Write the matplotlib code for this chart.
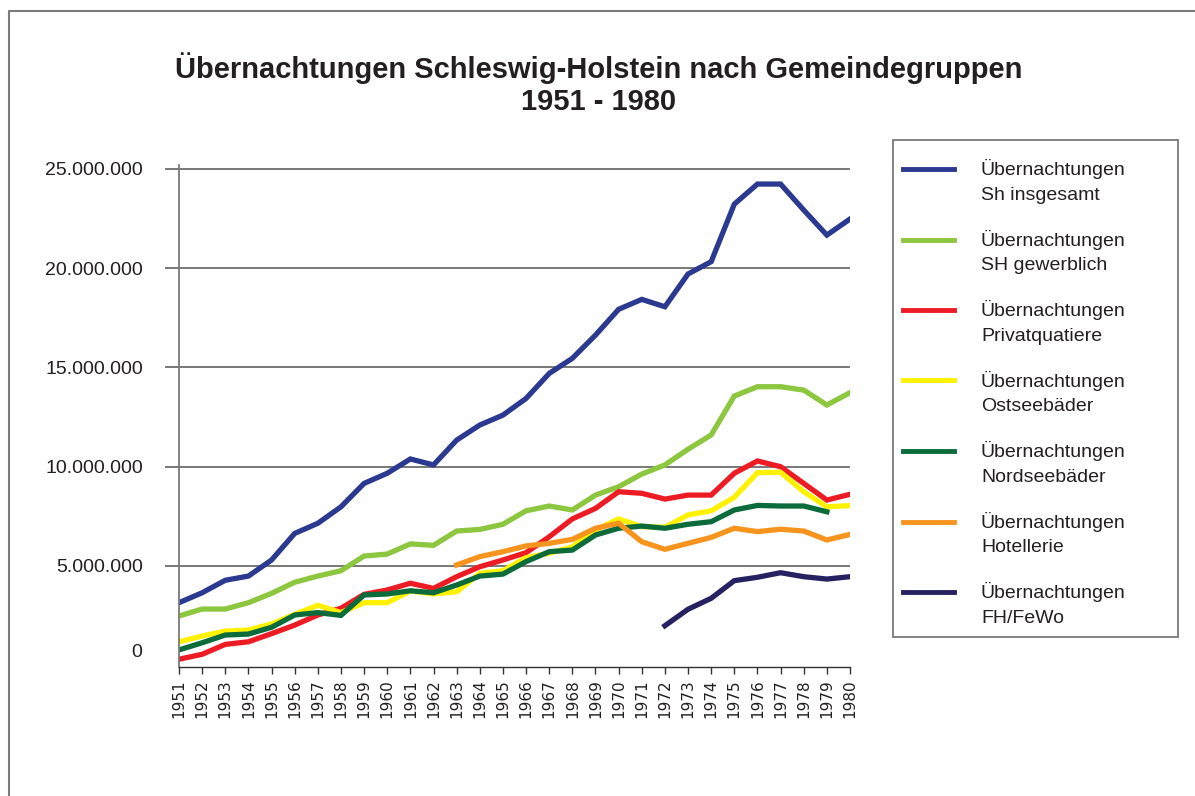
import matplotlib
matplotlib.use("Agg")
import matplotlib.pyplot as plt
from matplotlib.lines import Line2D
from matplotlib.patches import Rectangle
import numpy as np

plt.rcParams['font.family'] = ['Liberation Sans', 'DejaVu Sans']

years = list(range(1951, 1981))

# values in Mio. overnight stays
sh_insgesamt = [3.14, 3.64, 4.27, 4.48, 5.29, 6.63, 7.14, 7.97, 9.15, 9.66,
                10.38, 10.08, 11.33, 12.09, 12.59, 13.43, 14.69, 15.45, 16.62, 17.92,
                18.42, 18.05, 19.70, 20.32, 23.22, 24.23, 24.23, 22.92, 21.66, 22.47]
sh_gewerblich = [2.47, 2.82, 2.82, 3.14, 3.61, 4.17, 4.48, 4.75, 5.49, 5.59,
                 6.10, 6.03, 6.75, 6.83, 7.09, 7.77, 8.01, 7.81, 8.56, 8.98,
                 9.62, 10.08, 10.87, 11.59, 13.55, 14.02, 14.02, 13.85, 13.10, 13.72]
privat = [0.29, 0.54, 1.04, 1.17, 1.58, 2.01, 2.52, 2.86, 3.56, 3.78,
          4.12, 3.86, 4.45, 4.95, 5.29, 5.66, 6.46, 7.36, 7.89, 8.73,
          8.65, 8.36, 8.56, 8.56, 9.66, 10.28, 9.99, 9.15, 8.31, 8.60]
ostsee = [1.17, 1.46, 1.71, 1.76, 2.07, 2.55, 3.01, 2.64, 3.14, 3.14,
          3.73, 3.58, 3.69, 4.62, 4.75, 5.41, 5.63, 5.96, 6.80, 7.36,
          6.97, 6.94, 7.56, 7.77, 8.45, 9.69, 9.71, 8.73, 7.97, 8.03]
nordsee = [0.76, 1.12, 1.51, 1.56, 1.90, 2.52, 2.64, 2.50, 3.53, 3.58,
           3.74, 3.64, 4.03, 4.48, 4.58, 5.21, 5.71, 5.79, 6.55, 6.89,
           7.00, 6.89, 7.09, 7.22, 7.81, 8.04, 8.01, 8.01, 7.72, None]
hotellerie = [None] * 12 + [5.04, 5.46, 5.71, 6.00, 6.13, 6.33, 6.89, 7.14,
                            6.21, 5.83, 6.13, 6.43, 6.89, 6.72, 6.84, 6.75, 6.30, 6.58]
fewo = [None] * 21 + [1.98, 2.81, 3.36, 4.25, 4.42, 4.65, 4.45, 4.33, 4.45]

labels = ["Übernachtungen\nSh insgesamt",
          "Übernachtungen\nSH gewerblich",
          "Übernachtungen\nPrivatquatiere",
          "Übernachtungen\nOstseebäder",
          "Übernachtungen\nNordseebäder",
          "Übernachtungen\nHotellerie",
          "Übernachtungen\nFH/FeWo"]
colors = ['#2B3990', '#8DC63F', '#ED1C24', '#FFF200', '#0B6B3A', '#F7941D', '#262262']
series = [sh_insgesamt, sh_gewerblich, privat, ostsee, nordsee, hotellerie, fewo]

W, H = 1195, 796
fig = plt.figure(figsize=(W / 100, H / 100), dpi=100)
ax = fig.add_axes([179 / W, 1 - 667 / H, 671 / W, (667 - 165) / H])

for vals, c in zip(series, colors):
    y = np.array([np.nan if v is None else v * 1e6 for v in vals])
    ax.plot(years, y, color=c, lw=3.8, solid_joinstyle='miter')

ax.set_xlim(1951, 1980)
ax.set_ylim(-0.1e6, 25.19e6)

yt = [5e6, 10e6, 15e6, 20e6, 25e6]
ax.set_yticks(yt)
ax.set_yticklabels(["5.000.000", "10.000.000", "15.000.000", "20.000.000", "25.000.000"])
for v in yt:
    ax.axhline(v, color='#6d6d6d', lw=1.3, zorder=0)
ax.tick_params(axis='y', direction='out', length=10, width=1.3, color='#6d6d6d',
               pad=16, labelsize=14, labelcolor='#231f20')
ax.text(-37 / 671, 0.65e6, "0", transform=ax.get_yaxis_transform(),
        ha='right', va='center', fontsize=14, color='#231f20')

ax.set_xticks(years)
ax.set_xticklabels([str(y) for y in years], rotation=90, family='DejaVu Sans')
ax.tick_params(axis='x', direction='out', length=5, width=1, color='#333333',
               pad=4, labelsize=11, labelcolor='#231f20')

for s in ['top', 'right']:
    ax.spines[s].set_visible(False)
ax.spines['left'].set_color('#7a7a7a')
ax.spines['left'].set_linewidth(1.3)
ax.spines['bottom'].set_color('#333333')
ax.spines['bottom'].set_linewidth(1)

# title
fig.text(599 / W, 1 - 68 / H, "Übernachtungen Schleswig-Holstein nach Gemeindegruppen",
         ha='center', va='center', fontsize=21, fontweight='bold', color='#231f20')
fig.text(599 / W, 1 - 102 / H, "1951 - 1980",
         ha='center', va='center', fontsize=21, fontweight='bold', color='#231f20')

# legend box drawn by hand
fig.patches.append(Rectangle((893 / W, 1 - 637 / H), (1178 - 893) / W, (637 - 140) / H,
                             transform=fig.transFigure, fill=False,
                             edgecolor='#7a7a7a', lw=1.3))
for i, (lab, c) in enumerate(zip(labels, colors)):
    yy = 169 + i * 70.5
    fig.lines.append(Line2D([903 / W, 954 / W], [1 - yy / H, 1 - yy / H],
                            transform=fig.transFigure, color=c, lw=3.5))
    fig.text(981 / W, 1 - (yy + 12.5) / H, lab, ha='left', va='center',
             fontsize=14, color='#231f20', linespacing=1.6)

# outer frame
fig.lines.append(Line2D([9 / W, 9 / W, 1], [0, 1 - 11 / H, 1 - 11 / H],
                        transform=fig.transFigure, color='#7a7a7a', lw=1.5))

fig.savefig("out.png", dpi=100)
